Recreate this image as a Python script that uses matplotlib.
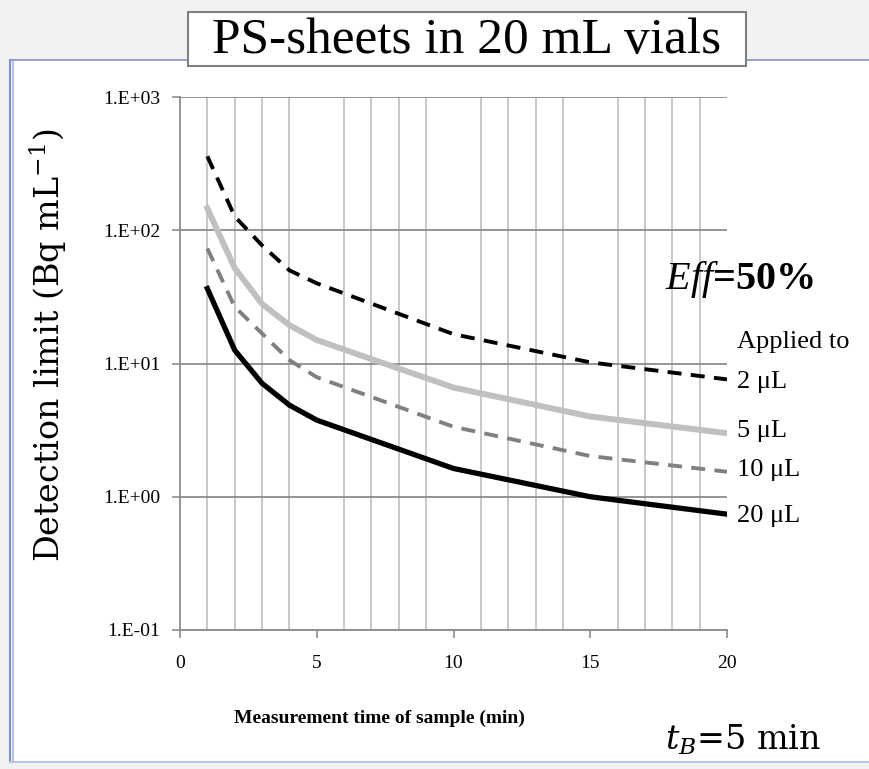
import matplotlib.pyplot as plt
import numpy as np
from matplotlib.lines import Line2D
from matplotlib.patches import Rectangle

times = [1, 2, 3, 4, 5, 10, 15, 20]
dl_2ul = [359, 127, 77, 50, 40, 16.6, 10.2, 7.6]
dl_5ul = [146, 52, 28, 19.4, 15, 6.6, 4.0, 3.0]
dl_10ul = [73, 26.6, 16.8, 10.6, 7.9, 3.35, 2.02, 1.54]
dl_20ul = [36.5, 12.6, 7.1, 4.87, 3.76, 1.63, 1.0, 0.74]

series_labels = ["2 μL", "5 μL", "10 μL", "20 μL"]
y_ticks = [0.1, 1, 10, 100, 1000]
y_ticklabels = ["1.E-01", "1.E+00", "1.E+01", "1.E+02", "1.E+03"]
x_ticks = [0, 5, 10, 15, 20]

W, H = 869, 769
plt.rcParams['font.family'] = ['Liberation Serif', 'DejaVu Serif']
plt.rcParams['mathtext.fontset'] = 'custom'
plt.rcParams['mathtext.rm'] = 'Liberation Serif'
plt.rcParams['mathtext.it'] = 'Liberation Serif:italic'
plt.rcParams['mathtext.bf'] = 'Liberation Serif:bold'

fig = plt.figure(figsize=(W / 100, H / 100), dpi=100)

def fx(px):
    return px / W

def fy(py):
    return 1 - py / H

# slide background / frame
fig.patch.set_facecolor('#f2f2f2')
fig.patches.append(Rectangle((fx(12), fy(762)), fx(869 - 12), fy(60) - fy(762),
                             transform=fig.transFigure, facecolor='white',
                             edgecolor='none', zorder=-5))
for xp, c in [(10, '#7f93c8'), (13, '#b8c4e4')]:
    fig.lines.append(Line2D([fx(xp), fx(xp)], [fy(60), fy(762)],
                            transform=fig.transFigure, color=c, lw=1.5, zorder=-4))
fig.lines.append(Line2D([fx(10), fx(869)], [fy(60), fy(60)],
                        transform=fig.transFigure, color='#7f93c8', lw=1.2, zorder=-4))
fig.lines.append(Line2D([fx(10), fx(869)], [fy(762), fy(762)],
                        transform=fig.transFigure, color='#b8c4e4', lw=1.5, zorder=-4))

ax = fig.add_axes([fx(180), fy(630), fx(727) - fx(180), fy(97) - fy(630)])
ax.set_facecolor('none')
ax.set_yscale('log')
ax.set_xlim(0, 20)
ax.set_ylim(0.1, 1000)

# grid
ax.set_xticks(np.arange(1, 21), minor=True)
ax.grid(True, which='minor', axis='x', color='#c4c4c4', lw=1.3)
ax.grid(True, which='major', axis='y', color='#8c8c8c', lw=1.3)
ax.yaxis.set_minor_locator(plt.NullLocator())
ax.tick_params(axis='x', which='minor', length=0)

ax.plot(times, dl_2ul, color='black', lw=2.8, dashes=(3.6, 2.4))
ax.plot(times, dl_5ul, color='#c0c0c0', lw=4.3)
ax.plot(times, dl_10ul, color='#808080', lw=2.8, dashes=(3.6, 2.4))
ax.plot(times, dl_20ul, color='black', lw=3.8)

ax.set_xticks(x_ticks)
ax.set_yticks(y_ticks)
ax.set_yticklabels(y_ticklabels)
ax.tick_params(axis='both', which='major', labelsize=14, color='#8c8c8c',
               length=6, width=1.2, direction='out')
ax.tick_params(axis='x', pad=12)
ax.tick_params(axis='y', pad=8)

for s in ['top', 'right']:
    ax.spines[s].set_visible(False)
for s in ['left', 'bottom']:
    ax.spines[s].set_color('#8c8c8c')
    ax.spines[s].set_linewidth(1.3)

ax.set_xlabel("Measurement time of sample (min)", fontsize=14, fontweight='bold')
ax.xaxis.set_label_coords((379 - 180) / 547, (630 - 718) / 533)
ax.xaxis.label.set_va('center')
ax.set_ylabel("Detection limit (Bq mL$^{-1}$)", fontsize=24, family='DejaVu Serif',
              math_fontfamily='dejavuserif')
ax.yaxis.set_label_coords((48 - 180) / 547, (630 - 345) / 533)
ax.yaxis.label.set_va('center')

# title box
fig.patches.append(Rectangle((fx(188), fy(66)), fx(746) - fx(188), fy(12) - fy(66),
                             transform=fig.transFigure, facecolor='white',
                             edgecolor='#7f7f7f', lw=1.5, zorder=2))
fig.text(fx(467), fy(41), "PS-sheets in 20 mL vials", fontsize=37, ha='center', va='center',
         zorder=3)

# annotations
fig.text(fx(665), fy(280), "$\\mathbf{\\mathit{Eff}}$=50%", fontsize=29,
         fontweight='bold', ha='left', va='center')
fig.text(fx(737), fy(342), "Applied to", fontsize=19, ha='left', va='center')
for lab, yp in zip(series_labels, [382, 431, 470, 516]):
    fig.text(fx(737), fy(yp), lab, fontsize=19, ha='left', va='center')
fig.text(fx(665), fy(740), "$t_B$=5 min", fontsize=24, family='DejaVu Serif',
         math_fontfamily='dejavuserif', ha='left', va='center')

fig.savefig("out.png", dpi=100, facecolor=fig.get_facecolor())
